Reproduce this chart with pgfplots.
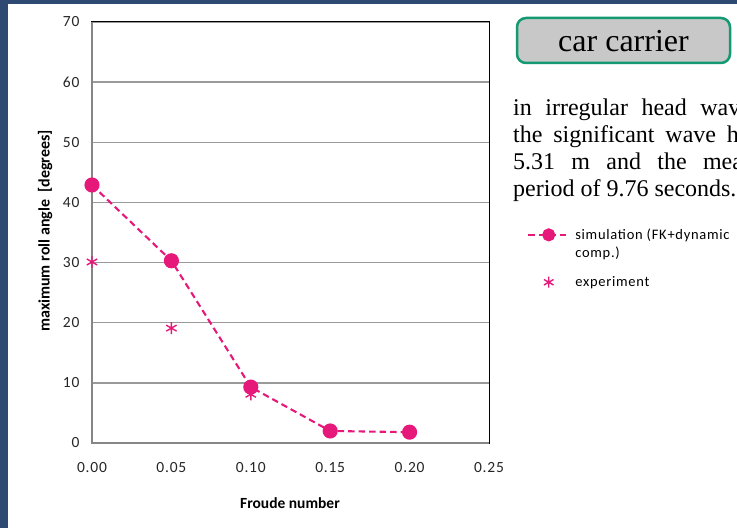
\documentclass[border=0pt]{standalone}
\usepackage{pgfplots}
\pgfplotsset{compat=1.18}
\usepackage{fontspec}
\setmainfont{Liberation Serif}
\newfontfamily\carlito{Carlito}[LetterSpace=5]
\newfontfamily\carlitob{Carlito}
\definecolor{mag}{HTML}{E6197B}
\definecolor{frameblue}{HTML}{2E4A72}
\definecolor{boxgreen}{HTML}{149A72}
\definecolor{gridgray}{HTML}{9A9A9A}
\definecolor{axgray}{HTML}{868686}
\begin{document}
\begin{tikzpicture}[x=1pt,y=1pt]
\useasboundingbox (0,0) rectangle (737,528);
\fill[white] (0,0) rectangle (737,528);
\fill[frameblue] (0,0) rectangle (8,528);
\fill[frameblue] (0,524) rectangle (737,528);
\begin{axis}[
  at={(92pt,85pt)}, anchor=south west, scale only axis,
  width=397pt, height=421pt,
  xmin=0, xmax=0.25, ymin=0, ymax=70,
  xtick={0,0.05,0.1,0.15,0.2,0.25},
  ytick={0,10,20,30,40,50,60,70},
  major tick length=0pt,
  xticklabel style={/pgf/number format/.cd, fixed, fixed zerofill, precision=2, /tikz/.cd, yshift=-16pt},
  yticklabel style={xshift=-9pt},
  /pgf/number format/assume math mode=true,
  tick label style={font=\carlito\fontsize{15.5}{18}\selectfont, text=black!85},
  ymajorgrids, grid style={gridgray, line width=1.3pt},
  axis line style={black, line width=1pt},
  xlabel={\bfseries Froude number},
  ylabel={\bfseries maximum roll angle\ \ [degrees]},
  label style={font=\carlitob\fontsize{15.5}{18}\selectfont},
  xlabel style={at={(axis description cs:0.4987,-0.1425)}, anchor=center},
  ylabel style={at={(axis description cs:-0.118,0.504)}, anchor=center, rotate=0, font=\carlitob\fontsize{16}{18}\selectfont},
  clip=false,
  legend style={at={(axis description cs:1.0957,0.514)}, anchor=north west, draw=none, fill=none,
    font=\carlito\fontsize{14.5}{18}\selectfont, row sep=2pt, inner sep=0pt},
  legend cell align=left,
  legend image code/.code={\draw[#1, mark size=5.5pt, mark repeat=2, mark phase=2] plot coordinates {(0pt,0pt) (20.5pt,0pt) (41pt,0pt)};},
]
\draw[axgray, line width=2pt] (rel axis cs:0,1) -- (rel axis cs:0,0) -- (rel axis cs:1,0);
\addplot[color=mag, line width=2.1pt, dash pattern=on 6.5pt off 4pt, mark=*, mark size=6.5pt, mark options={solid}]
  coordinates {(0,42.9) (0.05,30.3) (0.1,9.3) (0.15,2.0) (0.2,1.8)};
\addlegendentry{\hspace{3pt}simulation (FK+dynamic}
\addlegendimage{empty legend}
\addlegendentry{\hspace{3pt}comp.)}
\addlegendimage{empty legend}
\addlegendentry{\rule{0pt}{4pt}}
\addplot[only marks, color=mag, mark=asterisk, mark size=6pt, mark options={line width=1.4pt}]
  coordinates {(0,30.1) (0.05,19.1) (0.1,8.1) (0.15,2.0)};
\addlegendentry{\hspace{3pt}experiment}
\end{axis}
\draw[boxgreen, line width=2.5pt, fill={rgb,255:red,200;green,200;blue,200}, rounded corners=9pt] (517,465) rectangle (730,510);
\node[font=\fontsize{32}{36}\selectfont] at (623.5,487) {car carrier};
\begin{scope}[font=\fontsize{24}{27}\selectfont]
\clip (500,300) rectangle (737,430);
\node[anchor=base west, inner sep=0pt] at (513,412) {in\hspace{13.5pt}irregular\hspace{13.5pt}head\hspace{13.5pt}waves\hspace{13.5pt}with};
\node[anchor=base west, inner sep=0pt] at (513,385) {the\hspace{10.8pt}significant\hspace{10.8pt}wave\hspace{10.8pt}height\hspace{10.8pt}of};
\node[anchor=base west, inner sep=0pt] at (513,358) {5.31\hspace{16.3pt}m\hspace{16.3pt}and\hspace{16.3pt}the\hspace{16.3pt}mean\hspace{16.3pt}wave};
\node[anchor=base west, inner sep=0pt] at (513,331) {period of 9.76 seconds.};
\end{scope}
\end{tikzpicture}
\end{document}
